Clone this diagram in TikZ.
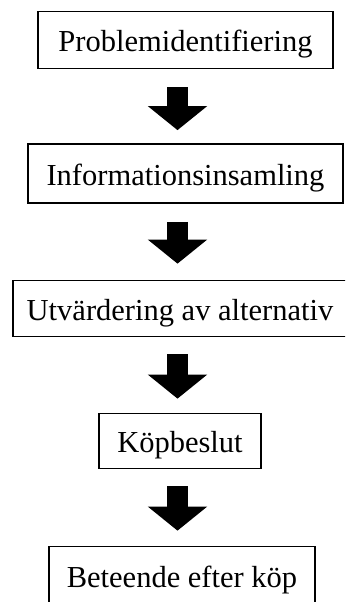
\documentclass[tikz,border=0pt]{standalone}
\usepackage{fontspec}
\setmainfont{Liberation Serif}
\usetikzlibrary{arrows.meta,calc}
\begin{document}
\begin{tikzpicture}[x=1bp,y=-1bp,
  stage/.style={draw=black, line width=1.7bp, inner sep=0pt,
    text height=24bp, text depth=1bp,
    font=\fontsize{30.5bp}{36bp}\selectfont},
  blockarrow/.style={line width=21bp, draw=black,
    -{Triangle[width=58bp,length=24bp]}}]
\useasboundingbox (0,0) rectangle (345,602);
\clip (0,0) rectangle (345,602);
\coordinate (ax) at (177.5,0);
\node[stage, minimum width=295bp, minimum height=57bp] (b1) at (185.5,40) {Problemidentifiering};
\node[stage, minimum width=315bp, minimum height=59bp] (b2) at (185.5,173.5) {Informationsinsamling};
\node[stage, minimum width=334bp, minimum height=56bp] (b3) at (180,308.5) {Utvärdering av alternativ};
\node[stage, minimum width=162bp, minimum height=55bp] (b4) at (180,441) {Köpbeslut};
\node[stage, minimum width=266bp, minimum height=58bp] (b5) at (182,575.5) {Beteende efter köp};
\draw[blockarrow] ($(b1.south -| ax)+(0,18)$) -- ($(b2.north -| ax)+(0,-13)$);
\draw[blockarrow] ($(b2.south -| ax)+(0,18)$) -- ($(b3.north -| ax)+(0,-16)$);
\draw[blockarrow] ($(b3.south -| ax)+(0,17)$) -- ($(b4.north -| ax)+(0,-14)$);
\draw[blockarrow] ($(b4.south -| ax)+(0,17)$) -- ($(b5.north -| ax)+(0,-15)$);
\end{tikzpicture}
\end{document}
